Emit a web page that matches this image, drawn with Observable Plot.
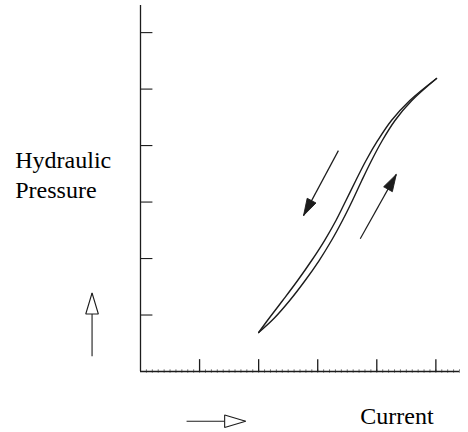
<!DOCTYPE html>
<html>
<head>
<meta charset="utf-8">
<script src="https://cdn.jsdelivr.net/npm/d3@7"></script>
<script src="https://cdn.jsdelivr.net/npm/@observablehq/plot@0.6"></script>
<style>
  html, body { margin: 0; padding: 0; background: #fff; }
</style>
</head>
<body>
<div id="chart"></div>
<script>
// Tick positions
const xTicks = [1, 2, 3, 4, 5];
const yTicks = [1, 2, 3, 4, 5, 6];

// Hysteresis loop: descending (upper/left) branch and ascending (lower/right) branch
const loopY = [0.690, 0.938, 1.257, 1.611, 1.965, 2.319, 2.674, 3.028, 3.382, 3.736, 4.090, 4.444, 4.798, 5.188];
const descX = [2.000, 2.174, 2.407, 2.660, 2.897, 3.115, 3.309, 3.478, 3.645, 3.818, 4.016, 4.248, 4.559, 5.011];
const ascX  = [2.000, 2.258, 2.526, 2.787, 3.024, 3.233, 3.419, 3.588, 3.746, 3.911, 4.093, 4.308, 4.593, 5.011];

// Direction arrows beside the loop
const loopArrows = [
  {x1: 3.35, y1: 3.91, x2: 2.76, y2: 2.76},
  {x1: 3.72, y1: 2.35, x2: 4.33, y2: 3.49}
];
// Axis direction arrows (hollow heads)
const axisArrows = [
  {x1: -0.82, y1: 0.27, x2: -0.82, y2: 1.39},
  {x1: 0.78, y1: -0.88, x2: 1.78, y2: -0.88}
];
// Labels
const labels = [
  {x: -2.12, y: 3.6, text: "Hydraulic"},
  {x: -2.12, y: 3.07, text: "Pressure"},
  {x: 3.72, y: -0.93, text: "Current"}
];

const desc = loopY.map((y, i) => ({x: descX[i], y}));
const asc = loopY.map((y, i) => ({x: ascX[i], y}));
const minorTicks = d3.range(1, 55).map(d => d / 10);

const ns = "http://www.w3.org/2000/svg";
function head(len, halfW, hollow) {
  return (color, context) => {
    const doc = (context && context.document) || document;
    const m = doc.createElementNS(ns, "marker");
    m.setAttribute("viewBox", `0 ${-halfW} ${len} ${2 * halfW}`);
    m.setAttribute("markerWidth", len);
    m.setAttribute("markerHeight", 2 * halfW);
    m.setAttribute("refX", len);
    m.setAttribute("refY", 0);
    m.setAttribute("orient", "auto");
    m.setAttribute("markerUnits", "userSpaceOnUse");
    m.setAttribute("overflow", "visible");
    const p = doc.createElementNS(ns, "path");
    p.setAttribute("d", `M0,${-halfW}L${len},0L0,${halfW}Z`);
    p.setAttribute("fill", hollow ? "white" : color);
    p.setAttribute("stroke", color);
    p.setAttribute("stroke-width", hollow ? 1.1 : 0.8);
    m.appendChild(p);
    return m;
  };
}

const ink = "#1c1c1c";
const chart = Plot.plot({
  width: 468,
  height: 432,
  marginLeft: 140,
  marginRight: 9,
  marginTop: 5,
  marginBottom: 61,
  x: {domain: [0, 5.4], axis: null},
  y: {domain: [0, 6.48], axis: null},
  marks: [
    Plot.ruleX(minorTicks, {y1: -0.03, y2: 0.03, stroke: "#555", strokeWidth: 0.8}),
    Plot.ruleX([0], {y1: 0, y2: 6.48, stroke: ink, strokeWidth: 1.3}),
    Plot.ruleY([0], {x1: 0, x2: 5.4, stroke: ink, strokeWidth: 1.3}),
    Plot.ruleY(yTicks, {x1: 0, x2: 0.21, stroke: ink, strokeWidth: 1.1}),
    Plot.ruleX(xTicks, {y1: 0, y2: 0.21, stroke: ink, strokeWidth: 1.3}),
    Plot.line(desc, {x: "x", y: "y", curve: "catmull-rom", stroke: ink, strokeWidth: 1.4}),
    Plot.line(asc, {x: "x", y: "y", curve: "catmull-rom", stroke: ink, strokeWidth: 1.4}),
    Plot.link(loopArrows, {x1: "x1", y1: "y1", x2: "x2", y2: "y2", stroke: ink, strokeWidth: 1.2, markerEnd: head(17, 5, false)}),
    Plot.link(axisArrows, {x1: "x1", y1: "y1", x2: "x2", y2: "y2", stroke: ink, strokeWidth: 1.1, markerEnd: head(21, 6.3, true)}),
    Plot.text(labels, {x: "x", y: "y", text: "text", textAnchor: "start", lineAnchor: "bottom",
      fontFamily: "Liberation Serif", fontSize: 24})
  ]
});
document.getElementById("chart").appendChild(chart);
</script>
</body>
</html>
